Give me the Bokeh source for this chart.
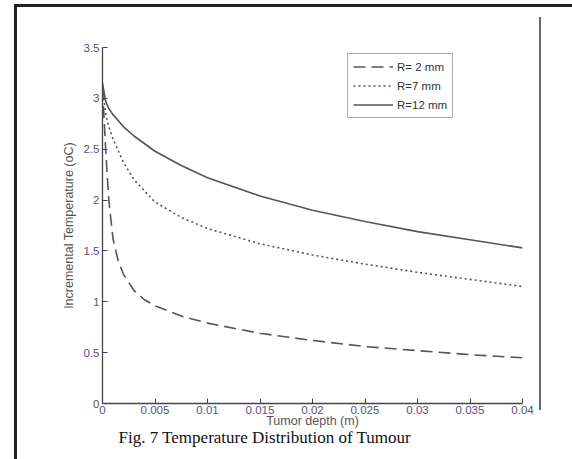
from bokeh.plotting import figure
from bokeh.models import (FixedTicker, Legend, LegendItem, Title, Range1d,
                          InlineStyleSheet)
from bokeh.embed import file_html
from bokeh.resources import INLINE

# ---- data ----
x_r2 = [0, 0.0003, 0.0006, 0.001, 0.0015, 0.002, 0.003, 0.004, 0.005, 0.0075,
        0.01, 0.015, 0.02, 0.025, 0.03, 0.035, 0.04]
y_r2 = [3.1, 2.5, 2.0, 1.62, 1.4, 1.27, 1.11, 1.02, 0.96, 0.86,
        0.79, 0.69, 0.62, 0.56, 0.52, 0.48, 0.45]

x_r7 = [0, 0.0003, 0.0006, 0.001, 0.002, 0.003, 0.005, 0.0075, 0.01, 0.015,
        0.02, 0.025, 0.03, 0.035, 0.04]
y_r7 = [3.1, 2.85, 2.72, 2.6, 2.37, 2.2, 1.98, 1.83, 1.72, 1.57,
        1.46, 1.37, 1.29, 1.22, 1.15]

x_r12 = [0, 0.0003, 0.0006, 0.001, 0.002, 0.003, 0.005, 0.0075, 0.01, 0.015,
         0.02, 0.025, 0.03, 0.035, 0.04]
y_r12 = [3.15, 2.97, 2.9, 2.84, 2.72, 2.63, 2.48, 2.34, 2.22, 2.04,
         1.9, 1.79, 1.69, 1.61, 1.53]

legend_labels = ["R= 2 mm", "R=7 mm", "R=12 mm"]
x_ticks = [0, 0.005, 0.01, 0.015, 0.02, 0.025, 0.03, 0.035, 0.04]
x_tick_labels = ["0", "0.005", "0.01", "0.015", "0.02", "0.025", "0.03", "0.035", "0.04"]
y_ticks = [0, 0.5, 1, 1.5, 2, 2.5, 3, 3.5]
y_tick_labels = ["0", "0.5", "1", "1.5", "2", "2.5", "3", "3.5"]
caption = "Fig. 7 Temperature Distribution of Tumour"

# page frame lines drawn as CSS background layers behind the (transparent) canvas
page_css = """
:host {
  background:
    linear-gradient(#222222, #222222) 14px 4px / 558px 3px no-repeat,
    linear-gradient(#222222, #222222) 14px 4px / 3px 455px no-repeat,
    linear-gradient(#6a6a6a, #6a6a6a) 539px 17px / 2px 393px no-repeat,
    #ffffff;
}
"""

W, H = 572, 459
p = figure(width=W, height=H, output_backend="svg", toolbar_location=None,
           x_range=Range1d(0, 0.04), y_range=Range1d(0, 3.5),
           min_border_left=102, min_border_right=50,
           min_border_top=47, min_border_bottom=56,
           stylesheets=[InlineStyleSheet(css=page_css)])
p.background_fill_color = "white"
p.border_fill_color = None
p.outline_line_color = None
p.grid.visible = False

line_col = "#555555"
r1 = p.line(x_r2, y_r2, line_color=line_col, line_width=1.6, line_dash="12 6")
r2 = p.line(x_r7, y_r7, line_color=line_col, line_width=1.6, line_dash="2 3")
r3 = p.line(x_r12, y_r12, line_color=line_col, line_width=1.6)

for ax in (p.xaxis[0], p.yaxis[0]):
    ax.axis_line_color = "#444444"
    ax.axis_line_width = 1.3
    ax.major_tick_in = 5
    ax.major_tick_out = 0
    ax.minor_tick_line_color = None
    ax.major_tick_line_color = "#444444"
    ax.major_label_text_font = "Liberation Sans"
    ax.major_label_text_font_size = "11.5px"
    ax.major_label_text_color = "#5a5378"
    ax.axis_label_text_font = "Liberation Sans"
    ax.axis_label_text_font_size = "12.5px"
    ax.axis_label_text_font_style = "normal"
    ax.axis_label_text_color = "#555555"

p.xaxis[0].ticker = FixedTicker(ticks=x_ticks)
p.xaxis[0].major_label_overrides = {t: l for t, l in zip(x_ticks, x_tick_labels)}
p.yaxis[0].ticker = FixedTicker(ticks=y_ticks)
p.yaxis[0].major_label_overrides = {t: l for t, l in zip(y_ticks, y_tick_labels)}
p.xaxis[0].axis_label = "Tumor depth (m)"
p.yaxis[0].axis_label = "Incremental Temperature (oC)"
p.xaxis[0].major_label_standoff = 2
p.xaxis[0].axis_label_standoff = -3
p.yaxis[0].major_label_standoff = 3
p.yaxis[0].axis_label_standoff = 5

legend = Legend(items=[LegendItem(label=legend_labels[0], renderers=[r1]),
                       LegendItem(label=legend_labels[1], renderers=[r2]),
                       LegendItem(label=legend_labels[2], renderers=[r3])],
                location=(245, 285))
legend.label_text_font = "Liberation Sans"
legend.label_text_font_size = "11.5px"
legend.label_text_color = "#333333"
legend.border_line_color = "#555555"
legend.border_line_width = 1.3
legend.glyph_width = 40
legend.glyph_height = 15
legend.label_height = 15
legend.label_standoff = 4
legend.padding = 5
legend.spacing = 4
legend.margin = 0
p.add_layout(legend, "center")

cap = Title(text=caption, align="left", offset=16, standoff=-9,
            text_font="Liberation Serif", text_font_size="17px",
            text_font_style="normal", text_color="#111111")
p.add_layout(cap, "below")

open("out.html", "w").write(file_html(p, INLINE))
